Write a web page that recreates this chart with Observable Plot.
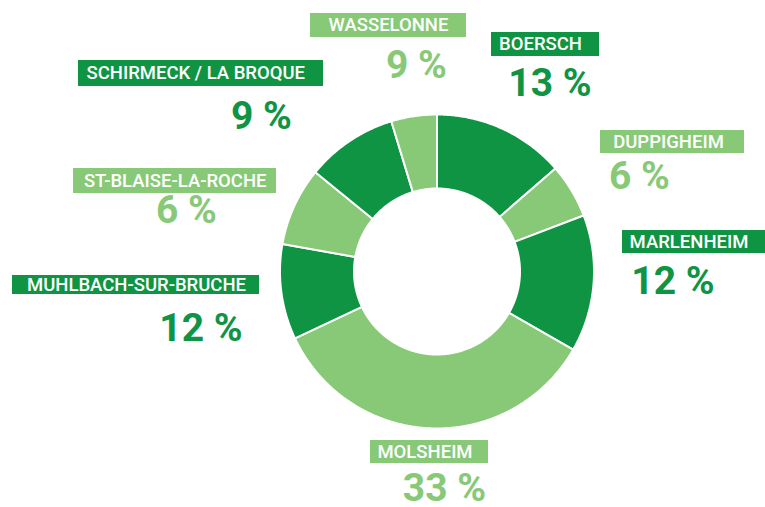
<!DOCTYPE html>
<html>
<head>
<meta charset="utf-8">
<script src="https://cdn.jsdelivr.net/npm/d3@7"></script>
<script src="https://cdn.jsdelivr.net/npm/@observablehq/plot@0.6"></script>
<style>
  html, body { margin: 0; padding: 0; background: #fff; }
  #chart { width: 765px; height: 507px; }
</style>
</head>
<body>
<div id="chart"></div>
<script>
// ---- data ----
const communes = ["BOERSCH", "DUPPIGHEIM", "MARLENHEIM", "MOLSHEIM", "MUHLBACH-SUR-BRUCHE", "ST-BLAISE-LA-ROCHE", "SCHIRMECK / LA BROQUE", "WASSELONNE"];
// slice shares as drawn in the picture (percent of the ring)
const shares = [13.6, 5.6, 14.1, 34.7, 9.8, 8.1, 9.4, 4.7];
// percentages printed on the labels
const printed = ["13 %", "6 %", "12 %", "33 %", "12 %", "6 %", "9 %", "9 %"];
const tone = ["dark", "light", "dark", "light", "dark", "light", "dark", "light"];

// ---- layout (pixels) ----
const center = [436.5, 271];
const outerR = 157;
const innerR = 83;
// label box [x1, x2, y1, y2], label text centre x, percentage centre [x, y]
const labelLayout = [
  {box: [491, 599, 32, 56],  tx: 540,   pct: [549.5, 86]},
  {box: [600, 744, 130, 153], tx: 668,  pct: [639, 179]},
  {box: [622, 765, 230, 253], tx: 688.5, pct: [672.5, 283.5]},
  {box: [370, 488, 440, 463], tx: 424.5, pct: [444, 491]},
  {box: [12, 259, 275, 294],  tx: 136,  pct: [200.5, 330.5]},
  {box: [73, 276, 168, 193],  tx: 174.7, pct: [186, 213]},
  {box: [78, 323, 60, 86],    tx: 195.3, pct: [261, 118.5]},
  {box: [310, 466, 13, 37],   tx: 388,  pct: [416, 67.5]}
];

const colors = {dark: "#0f9444", light: "#88c977"};

// ---- build slice polygons from the shares ----
const pie = d3.pie().sort(null).value(d => d)(shares);
const ring = [];
pie.forEach((p, i) => {
  const a0 = p.startAngle, a1 = p.endAngle;
  const n = Math.max(4, Math.ceil((a1 - a0) / (Math.PI / 360)));
  const pts = [];
  for (let k = 0; k <= n; k++) {
    const a = a0 + (a1 - a0) * k / n;
    pts.push([center[0] + outerR * Math.sin(a), center[1] - outerR * Math.cos(a)]);
  }
  for (let k = n; k >= 0; k--) {
    const a = a0 + (a1 - a0) * k / n;
    pts.push([center[0] + innerR * Math.sin(a), center[1] - innerR * Math.cos(a)]);
  }
  pts.push(pts[0]);
  pts.forEach(([x, y]) => ring.push({name: communes[i], tone: tone[i], x, y}));
});

const labels = communes.map((name, i) => ({
  name, tone: tone[i], pctText: printed[i],
  x1: labelLayout[i].box[0], x2: labelLayout[i].box[1],
  y1: labelLayout[i].box[2], y2: labelLayout[i].box[3],
  tx: labelLayout[i].tx, ty: (labelLayout[i].box[2] + labelLayout[i].box[3]) / 2,
  px: labelLayout[i].pct[0], py: labelLayout[i].pct[1]
}));

const chart = Plot.plot({
  width: 765,
  height: 507,
  margin: 0,
  x: {domain: [0, 765], range: [0, 765], axis: null},
  y: {domain: [0, 507], range: [0, 507], axis: null},
  color: {domain: ["dark", "light"], range: [colors.dark, colors.light]},
  style: {fontFamily: "Roboto, sans-serif", background: "#fff"},
  marks: [
    Plot.line(ring, {x: "x", y: "y", z: "name", fill: "tone", stroke: "white", strokeWidth: 2, strokeLinejoin: "round"}),
    Plot.rect(labels, {x1: "x1", x2: "x2", y1: "y1", y2: "y2", fill: "tone"}),
    Plot.text(labels, {x: "tx", y: "ty", text: "name", fill: "white", fontSize: 18.5, fontWeight: 500, textAnchor: "middle", lineAnchor: "middle"}),
    Plot.text(labels, {x: "px", y: "py", text: "pctText", fill: "tone", fontSize: 39, fontWeight: 700, textAnchor: "middle", lineAnchor: "middle", lineHeight: 0.8})
  ]
});
document.getElementById("chart").appendChild(chart);
</script>
</body>
</html>
